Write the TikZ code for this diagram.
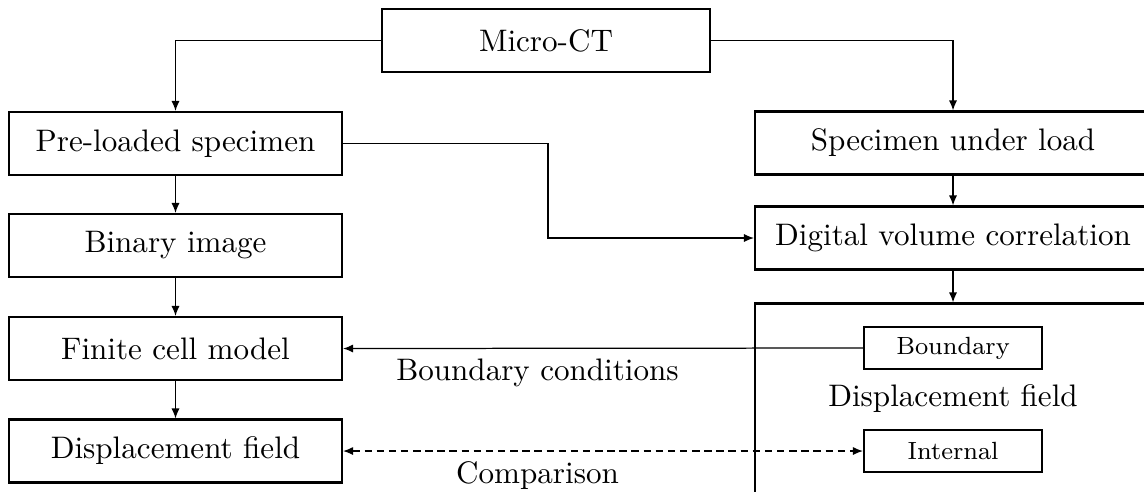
\documentclass[tikz,border=0pt]{standalone}
\usetikzlibrary{arrows.meta,calc}
\tikzset{
  box/.style={draw, line width=0.7pt, rectangle, inner sep=0pt, align=center},
  lbox/.style={box, minimum width=107.06pt, minimum height=20.25pt},
  rbox/.style={box, minimum width=127.31pt, minimum height=20.25pt},
  sbox/.style={box, minimum width=57.23pt, minimum height=13.5pt, font=\footnotesize},
  arr/.style={line width=0.4pt, -{Latex[length=3.2pt,width=2.6pt]}},
  darr/.style={line width=0.4pt, dash pattern=on 2.4pt off 1.5pt, {Latex[length=3.2pt,width=2.6pt]}-{Latex[length=3.2pt,width=2.6pt]}},
}
\begin{document}
\begin{tikzpicture}[x=0.3215pt, y=-0.3215pt]
\path[use as bounding box, clip] (0,0) rectangle (1144,491);
\fill[white] (0,0) rectangle (1144,491);
% nodes
\node[box, minimum width=105.45pt, minimum height=20.25pt] (ct) at (546,40.5) {Micro-CT};
\node[lbox] (pre) at (175.5,143.5) {Pre-loaded specimen};
\node[lbox] (bin) at (175.5,245.5) {Binary image};
\node[lbox] (fcm) at (175.5,348.5) {Finite cell model};
\node[lbox] (dfl) at (175.5,451) {Displacement field};
\node[rbox] (spec) at (953,143) {Specimen under load};
\node[rbox] (dvc) at (953,238) {Digital volume correlation};
\node[box, minimum width=127.31pt, minimum height=61.09pt] (big) at (953,398.5) {Displacement field};
\node[sbox] (bnd) at (953,348) {Boundary};
\node[sbox] (int) at (953,451) {Internal};
\coordinate (k) at (548,143.5);
% connectors
\draw[arr] (ct.west) -| (pre.north);
\draw[arr] (ct.east) -| (spec.north);
\draw[arr] (pre) -- (bin);
\draw[arr] (bin) -- (fcm);
\draw[arr] (fcm) -- (dfl);
\draw[arr] (pre.east) -- (k) |- (dvc.west);
\draw[arr] (spec) -- (dvc);
\draw[arr] (dvc.south) -- (big.north);
\draw[arr] (bnd.west) -- (fcm.east) node[pos=0.626, below] {Boundary conditions};
\draw[darr] (dfl.east) -- (int.west) node[pos=0.374, below] {Comparison};
\end{tikzpicture}
\end{document}
